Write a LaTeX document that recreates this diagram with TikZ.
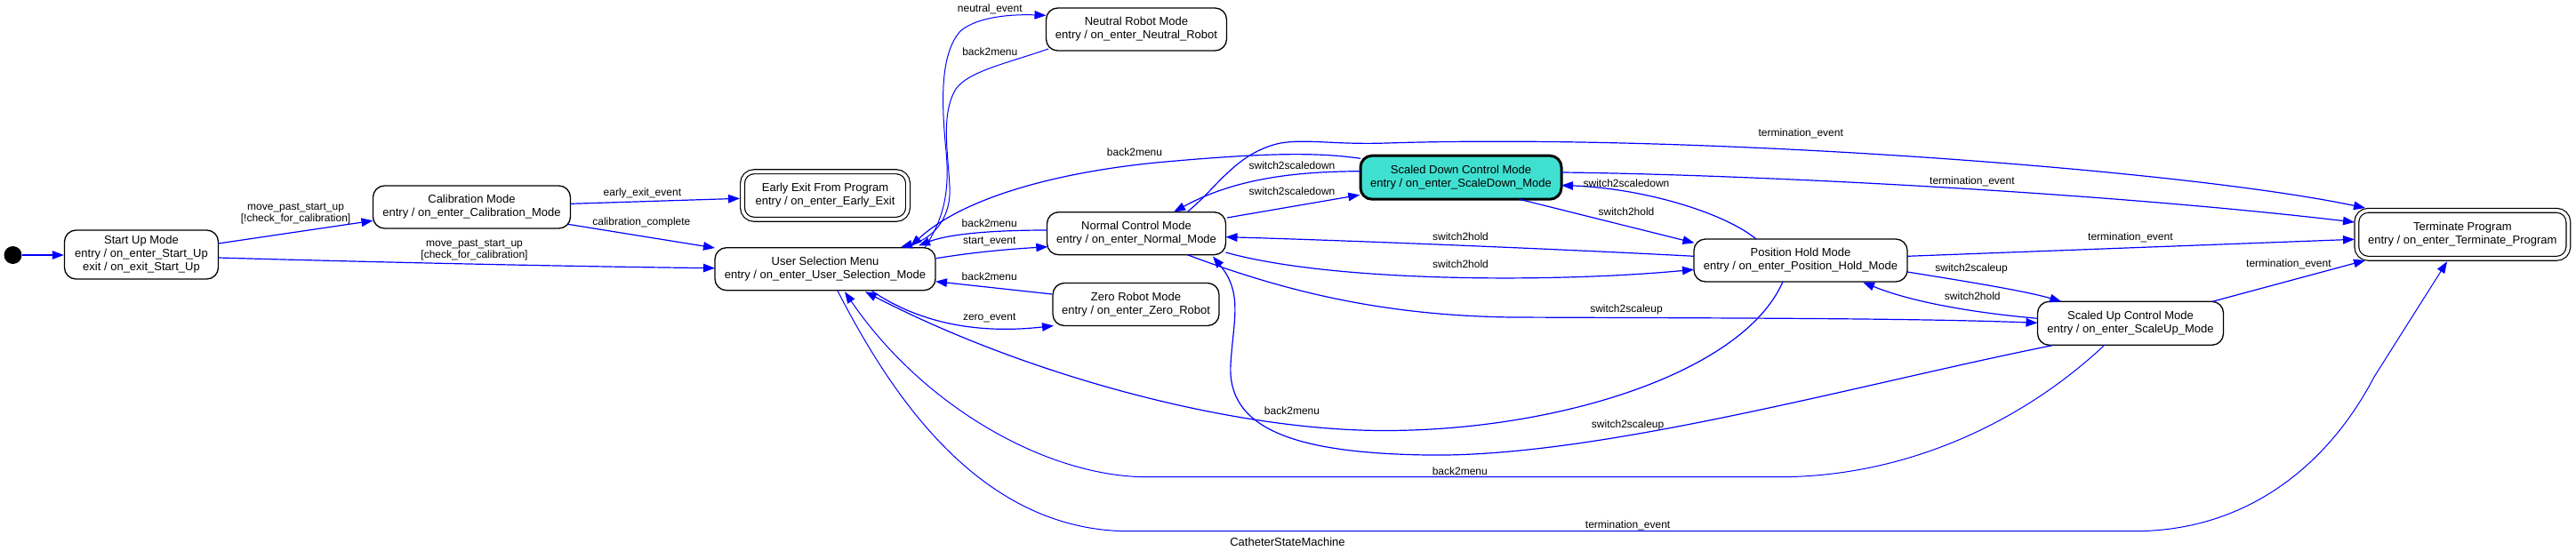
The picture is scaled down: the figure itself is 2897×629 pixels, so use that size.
\documentclass[tikz,border=0pt]{standalone}
\usepackage{fontspec}
\setmainfont{Liberation Sans}
\usetikzlibrary{arrows.meta,calc}
\newcommand\nfont{\fontsize{13}{15}\selectfont}
\newcommand\efont{\fontsize{12}{13}\selectfont}
\tikzset{
  st/.style={draw=black, line width=1.3pt, rounded corners=13pt, fill=white, align=center, font=\nfont, inner sep=0pt},
  fin/.style={st, double=white, double distance=3.6pt, line width=1.2pt},
  ed/.style={draw=blue, line width=1.2pt, -{Triangle[length=13pt,width=9.5pt]}},
  lb/.style={font=\efont, align=center, inner sep=0pt},
}
\begin{document}
\begin{tikzpicture}[x=1pt,y=-1pt]
\fill[white] (0,0) rectangle (2897,629);
\useasboundingbox (0,0) rectangle (2897,629);

% states
\node[circle, fill=black, minimum size=20pt, inner sep=0pt] (init) at (14.5,287) {};
\node[st, minimum width=173pt, minimum height=55pt] (startup) at (159,286.5) {Start Up Mode\\entry / on\_enter\_Start\_Up\\exit / on\_exit\_Start\_Up};
\node[st, minimum width=222pt, minimum height=48pt] (calib) at (530.5,233) {Calibration Mode\\entry / on\_enter\_Calibration\_Mode};
\node[fin, minimum width=186pt, minimum height=53.6pt] (early) at (928,220) {Early Exit From Program\\entry / on\_enter\_Early\_Exit};
\node[st, minimum width=248pt, minimum height=48pt] (us) at (928,302.7) {User Selection Menu\\entry / on\_enter\_User\_Selection\_Mode};
\node[st, minimum width=203pt, minimum height=48pt] (neutral) at (1278,33) {Neutral Robot Mode\\entry / on\_enter\_Neutral\_Robot};
\node[st, minimum width=201pt, minimum height=48pt] (normal) at (1278,262.7) {Normal Control Mode\\entry / on\_enter\_Normal\_Mode};
\node[st, minimum width=187pt, minimum height=48pt] (zero) at (1277.5,342.5) {Zero Robot Mode\\entry / on\_enter\_Zero\_Robot};
\node[st, line width=3pt, fill={rgb,255:red,64;green,224;blue,208}, minimum width=226pt, minimum height=49pt] (down) at (1643,199.7) {Scaled Down Control Mode\\entry / on\_enter\_ScaleDown\_Mode};
\node[st, minimum width=240pt, minimum height=48pt] (hold) at (2025,293) {Position Hold Mode\\entry / on\_enter\_Position\_Hold\_Mode};
\node[st, minimum width=209pt, minimum height=49pt] (up) at (2396,363.8) {Scaled Up Control Mode\\entry / on\_enter\_ScaleUp\_Mode};
\node[fin, minimum width=238pt, minimum height=54pt] (term) at (2769.3,263.8) {Terminate Program\\entry / on\_enter\_Terminate\_Program};
\node[font=\nfont, inner sep=0pt] (title) at (1448,610) {CatheterStateMachine};

% transitions
\draw[ed] (init) -- ($(startup.west)+(0,0.5)$);
\draw[ed] ($(startup)+(86.5,-12.5)$) -- ($(calib)+(-111,15.3)$);
\draw[ed] ($(startup)+(86.5,3.5)$) .. controls (420,295) and (650,300) .. ($(us)+(-124,-1)$);
\draw[ed] ($(calib)+(111,-3.7)$) -- ($(early)+(-96,3.3)$);
\draw[ed] ($(calib)+(108,19.3)$) -- ($(us)+(-124,-23.7)$);
\draw[ed, line width=1pt] ($(us)+(112,-24)$) .. controls (1062,245) and (1068,215) .. (1064,170) .. controls (1058,110) and (1058,60) .. (1080,35) .. controls (1100,18) and (1140,16) .. ($(neutral)+(-101.5,-15.7)$);
\draw[ed, line width=1pt] ($(neutral)+(-99,22)$) .. controls (1130,72) and (1090,80) .. (1075,100) .. controls (1058,128) and (1066,170) .. (1068,210) .. controls (1070,245) and (1050,268) .. ($(us)+(85,-24.5)$);
\draw[ed] ($(us)+(124.7,-12)$) .. controls (1100,283) and (1140,280) .. ($(normal)+(-99.7,15)$);
\draw[ed] ($(normal)+(-100.5,-3.7)$) .. controls (1110,259) and (1065,264) .. ($(us)+(105,-26.2)$);
\draw[ed] ($(zero)+(-94.2,-11.5)$) -- ($(us)+(124,14)$);
\draw[ed] ($(us)+(52,24.3)$) .. controls (1040,368) and (1110,375) .. ($(zero)+(-92.5,24)$);
\draw[ed] ($(down)+(-113,-21.4)$) .. controls (1480,171) and (1420,172) .. (1300,183) .. controls (1180,195) and (1080,225) .. ($(us)+(96,-25.5)$);
\draw[ed] ($(normal)+(102,-17.7)$) -- ($(down)+(-113.7,19.6)$);
\draw[ed] ($(down)+(-113,-7)$) .. controls (1460,193) and (1390,200) .. ($(normal)+(42,-24.2)$);
\draw[ed] ($(normal)+(57,-24)$) .. controls (1370,210) and (1390,172) .. (1440,161) .. controls (1470,156) and (1500,163) .. (1560,161) .. controls (1900,150) and (2450,190) .. ($(term)+(-109.3,-29.8)$);
\draw[ed] ($(down)+(113,-5.7)$) .. controls (1950,196) and (2350,215) .. ($(term)+(-121.3,-13.8)$);
\draw[ed] ($(hold)+(120,-4.7)$) -- ($(term)+(-121.3,5.5)$);
\draw[ed] ($(up)+(92,-24.5)$) -- ($(term)+(-109.3,29.2)$);
\draw[ed] ($(down)+(65.5,24.5)$) -- ($(hold)+(-119.6,-19.7)$);
\draw[ed] ($(hold)+(-50,-24)$) .. controls (1940,240) and (1850,212) .. ($(down)+(113,8.8)$);
\draw[ed] ($(hold)+(-120,-4.7)$) .. controls (1750,280) and (1500,270) .. ($(normal)+(100.5,4)$);
\draw[ed] ($(normal)+(100.5,21.3)$) .. controls (1500,318) and (1750,318) .. ($(hold)+(-120,10.3)$);
\draw[ed] ($(normal)+(57.4,24)$) .. controls (1450,330) and (1560,355) .. (1700,357) .. controls (1950,358) and (2150,358) .. ($(up)+(-104.5,-0.5)$);
\draw[ed] ($(up)+(-86,24.5)$) .. controls (2100,430) and (1800,515) .. (1606,512) .. controls (1450,510) and (1380,480) .. (1384,410) .. controls (1387,360) and (1398,330) .. ($(normal)+(86,25.8)$);
\draw[ed] ($(hold)+(-20,24)$) .. controls (1960,420) and (1750,485) .. (1555,484.5) .. controls (1380,484) and (1150,420) .. ($(us)+(45,25.6)$);
\draw[ed, line width=1pt] ($(up)+(-29.3,24.5)$) .. controls (2280,470) and (2150,536.7) .. (2000,536.7) -- (1290,536.7) .. controls (1180,536.7) and (1040,460) .. ($(us)+(22,25.6)$);
\draw[ed, line width=1pt] ($(us)+(13.7,24)$) .. controls (1000,440) and (1100,597.7) .. (1270,597.7) -- (2400,597.7) .. controls (2530,597.7) and (2620,520) .. (2670,424) -- ($(term)+(-17.3,30.5)$);
\draw[ed] ($(up)+(-104.5,-5.5)$) .. controls (2220,352) and (2150,340) .. ($(hold)+(70,24.5)$);
\draw[ed] ($(hold)+(120,13)$) .. controls (2220,318) and (2280,328) .. ($(up)+(-77.7,-24.5)$);

% labels
\node[lb] (l2) at (332.6,240.3) {move\_past\_start\_up\\{[}!check\_for\_calibration{]}};
\node[lb] (l3) at (533.5,281.3) {move\_past\_start\_up\\{[}check\_for\_calibration{]}};
\node[lb] (l4) at (722.4,217.3) {early\_exit\_event};
\node[lb] (l5) at (721.4,250.7) {calibration\_complete};
\node[lb] (l6) at (1113.3,10.7) {neutral\_event};
\node[lb] (l7) at (1113.3,58.3) {back2menu};
\node[lb] (l8) at (1112.7,271.7) {start\_event};
\node[lb] (l9) at (1112.7,251.7) {back2menu};
\node[lb] (l10) at (1112.7,311.7) {back2menu};
\node[lb] (l11) at (1112.7,358.3) {zero\_event};
\node[lb] (l12) at (1276,171) {back2menu};
\node[lb] (l13) at (1453,215.7) {switch2scaledown};
\node[lb] (l14) at (1453,186.7) {switch2scaledown};
\node[lb] (l15) at (2025.2,150.7) {termination\_event};
\node[lb] (l16) at (2217.9,204) {termination\_event};
\node[lb] (l17) at (2395.9,267.3) {termination\_event};
\node[lb] (l18) at (2573.9,297.7) {termination\_event};
\node[lb] (l19) at (1829,238.3) {switch2hold};
\node[lb] (l20) at (1829,206) {switch2scaledown};
\node[lb] (l21) at (1642.5,266) {switch2hold};
\node[lb] (l22) at (1642.5,297.7) {switch2hold};
\node[lb] (l23) at (1829,348.3) {switch2scaleup};
\node[lb] (l24) at (1830.6,478.3) {switch2scaleup};
\node[lb] (l25) at (1453,462) {back2menu};
\node[lb] (l26) at (1641.8,530) {back2menu};
\node[lb] (l27) at (1830.6,591) {termination\_event};
\node[lb] (l28) at (2218.3,333.3) {switch2hold};
\node[lb] (l29) at (2217,302.7) {switch2scaleup};
\end{tikzpicture}
\end{document}
